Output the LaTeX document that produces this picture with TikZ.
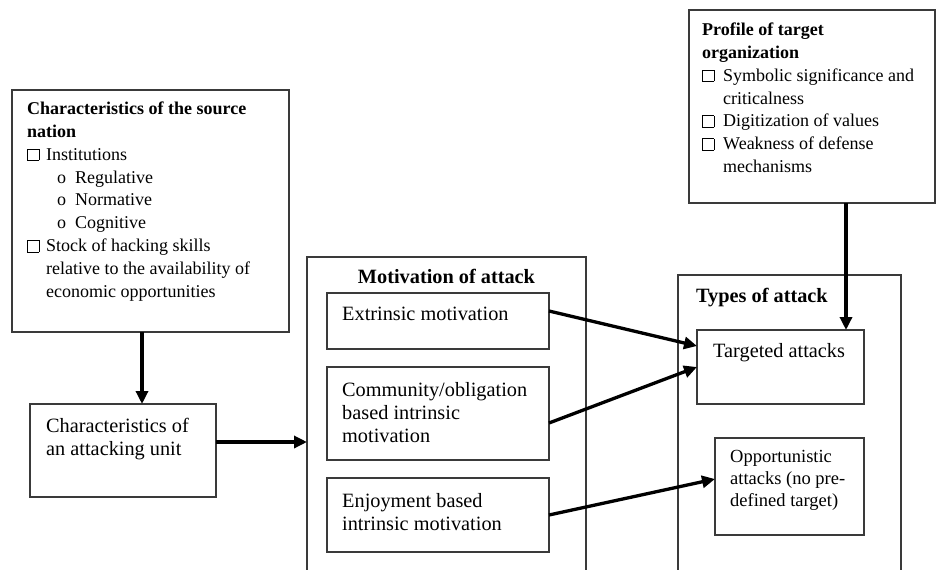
\documentclass[tikz,border=0pt]{standalone}
\usepackage{fontspec}
\setmainfont{Liberation Serif}
\usetikzlibrary{arrows.meta, positioning}
\definecolor{grisLinea}{HTML}{3A3A3A}
\colorlet{colTexto}{black}
\newcommand{\casilla}{{\setlength{\fboxsep}{0pt}\setlength{\fboxrule}{0.6pt}\fbox{\rule{0pt}{11pt}\rule{11pt}{0pt}}}}
\newcommand{\letraLista}{\fontsize{18}{22.9}\selectfont}
\newcommand{\letraCaja}{\fontsize{20.3}{23}\selectfont}
\tikzset{
  cajaBase/.style={
    draw=grisLinea, line width=1.3pt, inner sep=0pt, outer sep=0pt,
    fill=none
  },
  cajaMarco/.style={cajaBase},
  textoLista/.style={anchor=north west, inner sep=0pt, align=left,
    font=\letraLista, text=colTexto},
  textoCaja/.style={anchor=north west, inner sep=0pt, align=left,
    font=\letraCaja, text=colTexto},
  tituloCaja/.style={anchor=base west, inner sep=0pt,
    font=\letraCaja\bfseries, text=colTexto},
  flechaGruesa/.style={-{Triangle[length=13pt,width=12pt]}, line width=3.3pt, black},
}
\begin{document}
\begin{tikzpicture}[x=1pt, y=-1pt]
  \useasboundingbox (0,0) rectangle (937,570);
  \clip (0,0) rectangle (937,570);

  % recuadros exteriores
  \node[cajaMarco, minimum width=279pt, minimum height=343pt] (motivacion) at (446.5,428.5) {};
  \node[cajaMarco, minimum width=223pt, minimum height=325pt] (tipos) at (789.5,437.5) {};

  % recuadros
  \node[cajaBase, minimum width=277pt, minimum height=242pt] (nacion) at (150.5,211) {};
  \node[cajaBase, minimum width=186pt, minimum height=93pt] (unidad) at (123,450.5) {};
  \node[cajaBase, minimum width=222pt, minimum height=56pt] (extrinseca) at (438,321) {};
  \node[cajaBase, minimum width=222pt, minimum height=93pt] (comunidad) at (438,413.5) {};
  \node[cajaBase, minimum width=222pt, minimum height=74pt] (disfrute) at (438,515) {};
  \node[cajaBase, minimum width=167pt, minimum height=74pt] (dirigidos) at (780.5,367) {};
  \node[cajaBase, minimum width=149pt, minimum height=97pt] (oportunistas) at (789.5,486.5) {};
  \node[cajaBase, minimum width=246pt, minimum height=193pt] (perfil) at (812,106.5) {};

  % textos
  \node[textoLista] (txtNacion) at (27,101.5) {%
    \textbf{Characteristics of the source}\\
    \textbf{nation}\\
    \makebox[19pt][l]{\casilla}Institutions\\
    \hspace*{30pt}\makebox[18pt][l]{o}Regulative\\
    \hspace*{30pt}\makebox[18pt][l]{o}Normative\\
    \hspace*{30pt}\makebox[18pt][l]{o}Cognitive\\
    \makebox[19pt][l]{\casilla}Stock of hacking skills\\
    \hspace*{19pt}relative to the availability of\\
    \hspace*{19pt}economic opportunities};
  \node[textoLista] (txtPerfil) at (702,22.5) {%
    \textbf{Profile of target}\\
    \textbf{organization}\\
    \makebox[21pt][l]{\casilla}Symbolic significance and\\
    \hspace*{21pt}criticalness\\
    \makebox[21pt][l]{\casilla}Digitization of values\\
    \makebox[21pt][l]{\casilla}Weakness of defense\\
    \hspace*{21pt}mechanisms};
  \node[textoCaja] (txtUnidad) at (46,418) {Characteristics of\\an attacking unit};
  \node[tituloCaja, anchor=base] (txtMotivacion) at (446.5,283) {Motivation of attack};
  \node[textoCaja, anchor=base west] (txtExtrinseca) at (342,320) {Extrinsic motivation};
  \node[textoCaja] (txtComunidad) at (342,382) {Community/obligation\\based intrinsic\\motivation};
  \node[textoCaja] (txtDisfrute) at (342,493) {Enjoyment based\\intrinsic motivation};
  \node[tituloCaja] (txtTipos) at (696,302) {Types of attack};
  \node[textoCaja, anchor=base west] (txtDirigidos) at (713,357) {Targeted attacks};
  \node[textoLista, font=\fontsize{18.5}{22}\selectfont] (txtOportunistas) at (730,450) {Opportunistic\\attacks (no pre-\\defined target)};

  % flechas
  \draw[flechaGruesa] ([xshift=-8.5pt]nacion.south) -- ([xshift=-8.5pt]nacion.south |- unidad.north);
  \draw[flechaGruesa] ([yshift=8.5pt]unidad.east) -- ([yshift=8.5pt]unidad.east -| motivacion.west);
  \draw[flechaGruesa] ([yshift=10pt]extrinseca.east) -- ([yshift=21pt]dirigidos.west);
  \draw[flechaGruesa] ([yshift=-9.5pt]comunidad.east) -- (dirigidos.west);
  \draw[flechaGruesa] (disfrute.east) -- ([yshift=7.5pt]oportunistas.west);
  \draw[flechaGruesa] ([xshift=34pt]perfil.south) -- ([xshift=34pt]perfil.south |- dirigidos.north);
\end{tikzpicture}
\end{document}
